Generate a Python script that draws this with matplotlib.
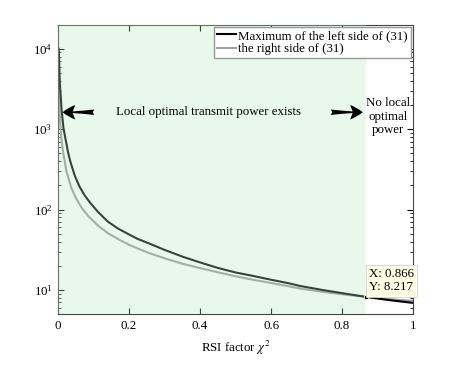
import numpy as np
import matplotlib
matplotlib.use("Agg")
import matplotlib.pyplot as plt

plt.rcParams['font.family'] = ['Liberation Serif', 'DejaVu Serif']
plt.rcParams['mathtext.fontset'] = 'stix'
plt.rcParams['font.size'] = 9.3

# Data =============================================
x_left = [0.002, 0.005, 0.01, 0.015, 0.02, 0.028, 0.035, 0.047, 0.06, 0.075,
          0.09, 0.113, 0.14, 0.169, 0.2, 0.225, 0.259, 0.3, 0.35, 0.4,
          0.45, 0.5, 0.541, 0.6, 0.65, 0.682, 0.75, 0.823, 0.866, 0.93, 1.0]
y_left = [10000, 3800, 1750, 1050, 800, 520, 390, 265, 195, 150,
          122, 93, 71, 58, 49, 43, 37.5, 31.5, 26, 22,
          18.8, 16.5, 15.2, 13.4, 12.1, 11.2, 9.9, 8.8, 8.217, 7.5, 6.9]

x_right = [0.0013, 0.003, 0.006, 0.01, 0.014, 0.0235, 0.0375, 0.05, 0.066, 0.085,
           0.113, 0.14, 0.169, 0.2, 0.23, 0.259, 0.3, 0.35, 0.4, 0.45,
           0.5, 0.541, 0.6, 0.65, 0.682, 0.75, 0.823, 0.866, 0.93, 1.0]
y_right = [5400, 2400, 1150, 720, 530, 300, 185, 140, 106, 83,
           63, 51, 43, 36.5, 32, 28.5, 24.8, 21.2, 18.7, 16.6,
           14.8, 13.6, 12.2, 11.1, 10.4, 9.4, 8.6, 8.217, 7.7, 7.3]

x_tip = 0.866
y_tip = 8.217

# Plot =============================================
fig = plt.figure(figsize=(4.57, 3.67), dpi=100)
ax = fig.add_axes([0.127, 0.144, 0.777, 0.789])

l1, = ax.plot(x_left, y_left, color='black', lw=1.5, zorder=2)
l2, = ax.plot(x_right, y_right, color='#999999', lw=1.5, zorder=1.9)

# green region drawn over the lines (as in the original)
ax.axvspan(0, x_tip, color=(0.70, 0.91, 0.73), alpha=0.3, lw=0, zorder=3)

ax.set_yscale('log')
ax.set_xlim(0, 1)
ax.set_ylim(5, 2e4)
ax.set_xticks([0, 0.2, 0.4, 0.6, 0.8, 1])
ax.set_xticklabels(['0', '0.2', '0.4', '0.6', '0.8', '1'])
ax.tick_params(which='both', direction='in', top=True, right=True, pad=4)
ax.tick_params(which='major', length=4)
ax.tick_params(which='minor', length=2)
ax.tick_params(axis='x', which='minor', top=False, bottom=False)
for s in ax.spines.values():
    s.set_color('#444444')
    s.set_linewidth(0.8)
ax.set_xlabel(r'RSI factor $\chi^2$', labelpad=5)

# arrows and texts
arrow = dict(arrowstyle='fancy,head_length=0.7,head_width=0.8,tail_width=0.3',
             fc='black', ec='none', mutation_scale=13)
ax.annotate('', xy=(0.005, 1625), xytext=(0.11, 1625), arrowprops=arrow, zorder=5)
ax.annotate('', xy=(0.866, 1625), xytext=(0.76, 1625), arrowprops=arrow, zorder=5)
ax.text(0.424, 1625, 'Local optimal transmit power exists', ha='center', va='center', zorder=5)
ax.text(0.93, 1430, 'No local\noptimal\npower', ha='center', va='center',
        linespacing=1.2, zorder=5)

# data tip
ax.plot([x_tip], [y_tip], 's', ms=3, mfc='black', mec='#ffffc0', mew=0.6, zorder=6)
ax.annotate('X: 0.866\nY: 8.217', xy=(x_tip, y_tip), xytext=(2.5, 2.5),
            textcoords='offset points', ha='left', va='bottom', linespacing=1.15,
            bbox=dict(boxstyle='square,pad=0.25', fc='#ffffe6', ec='#d0d0d0', lw=0.6),
            annotation_clip=False, zorder=7)

leg = ax.legend([l1, l2], ['Maximum of the left side of (31)', 'the right side of (31)'],
                loc='upper right', borderaxespad=0.2, handlelength=1.5, handletextpad=0.15,
                labelspacing=0.1, borderpad=0.2, fancybox=False, framealpha=1,
                edgecolor='#999999')
for ln, c in zip(leg.get_lines(), ['black', '#a0a0a0']):
    ln.set_color(c)
leg.set_zorder(8)

fig.savefig('out.png', dpi=100)
